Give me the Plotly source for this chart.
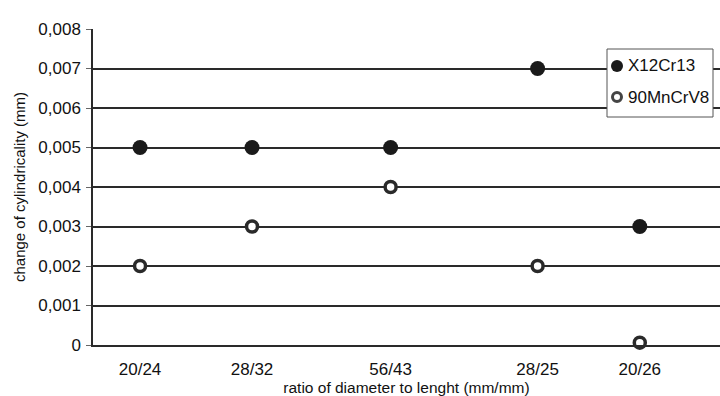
import plotly.graph_objects as go

# Specimen ratios (diameter / length) and their positions along the x axis
ratios = ["20/24", "28/32", "56/43", "28/25", "20/26"]
ratio_pos = [1.0, 1.8, 2.79, 3.84, 4.57]

# Change of cylindricity (mm) for each steel
series_names = ["X12Cr13", "90MnCrV8"]
x12cr13 = [0.005, 0.005, 0.005, 0.007, 0.003]
mncrv8 = [0.002, 0.003, 0.004, 0.002, 0.00006]

y_ticks = [0, 0.001, 0.002, 0.003, 0.004, 0.005, 0.006, 0.007, 0.008]
y_tick_text = ["0", "0,001", "0,002", "0,003", "0,004", "0,005", "0,006", "0,007", "0,008"]

FONT = "Liberation Sans, Arial, sans-serif"
INK = "#111111"
LINE = "#2a2a2a"

filled_marker = dict(symbol="circle", size=15, color="#1a1a1a", line=dict(width=0))
open_marker = dict(symbol="circle", size=11, color="white", line=dict(width=3.5, color=LINE))

fig = go.Figure()
fig.add_trace(go.Scatter(
    x=ratio_pos, y=x12cr13, mode="markers", name=series_names[0],
    marker=filled_marker, cliponaxis=False, showlegend=False,
))
fig.add_trace(go.Scatter(
    x=ratio_pos, y=mncrv8, mode="markers", name=series_names[1],
    marker=open_marker, cliponaxis=False, showlegend=False,
))

# Boxed key in the upper right corner, laid out in pixels from its top-left corner
key_left, key_top = 607, 49
key_w, key_h = 106, 68
plot_l, plot_t, plot_w, plot_h = 93, 29, 627, 316


def px_x(px):
    return (px - plot_l) / plot_w


def px_y(py):
    return 1 - (py - plot_t) / plot_h


shapes = [dict(
    type="rect", xref="paper", yref="paper",
    x0=px_x(key_left), x1=px_x(key_left + key_w),
    y0=px_y(key_top + key_h), y1=px_y(key_top),
    line=dict(color="#555555", width=1), fillcolor="white", layer="above",
)]
annotations = []
rows = [(66, series_names[0], True), (97, series_names[1], False)]
for cy, label, filled in rows:
    if filled:
        shapes.append(dict(
            type="circle", xref="paper", yref="paper",
            xsizemode="pixel", ysizemode="pixel",
            xanchor=px_x(617), yanchor=px_y(cy),
            x0=-6, x1=6, y0=-6, y1=6,
            fillcolor="#1a1a1a", line=dict(width=0), layer="above",
        ))
    else:
        shapes.append(dict(
            type="circle", xref="paper", yref="paper",
            xsizemode="pixel", ysizemode="pixel",
            xanchor=px_x(617), yanchor=px_y(cy),
            x0=-4.5, x1=4.5, y0=-4.5, y1=4.5,
            fillcolor="white", line=dict(width=3, color="#444444"), layer="above",
        ))
    annotations.append(dict(
        text=label, xref="paper", yref="paper",
        x=px_x(626), y=px_y(cy), xanchor="left", yanchor="middle",
        showarrow=False, font=dict(size=17, family=FONT, color=INK),
    ))

fig.update_layout(
    width=720, height=396,
    margin=dict(l=plot_l, r=0, t=plot_t, b=51),
    paper_bgcolor="white", plot_bgcolor="white",
    font=dict(family=FONT, color=INK),
    showlegend=False,
    shapes=shapes,
    annotations=annotations,
    xaxis=dict(
        range=[0.664, 5.143],
        tickmode="array", tickvals=ratio_pos, ticktext=ratios,
        tickfont=dict(size=17, family=FONT, color=INK),
        showgrid=False, zeroline=False,
        showline=True, linecolor=LINE, linewidth=1.5,
        ticks="", ticklabelstandoff=8,
        title=dict(text="ratio of diameter to lenght (mm/mm)",
                   font=dict(size=15.5, family=FONT, color=INK),
                   standoff=2),
        fixedrange=True,
    ),
    yaxis=dict(
        range=[0, 0.008],
        tickmode="array", tickvals=y_ticks, ticktext=y_tick_text,
        tickfont=dict(size=17, family=FONT, color=INK),
        showgrid=True, gridcolor=LINE, gridwidth=1.5,
        zeroline=False,
        showline=True, linecolor=LINE, linewidth=1.5,
        ticks="outside", ticklen=5, tickcolor="#666666",
        ticklabelstandoff=2,
        title=dict(text="change of cylindricality (mm)",
                   font=dict(size=15, family=FONT, color=INK),
                   standoff=9),
        fixedrange=True,
    ),
)

fig.write_html("out.html")
